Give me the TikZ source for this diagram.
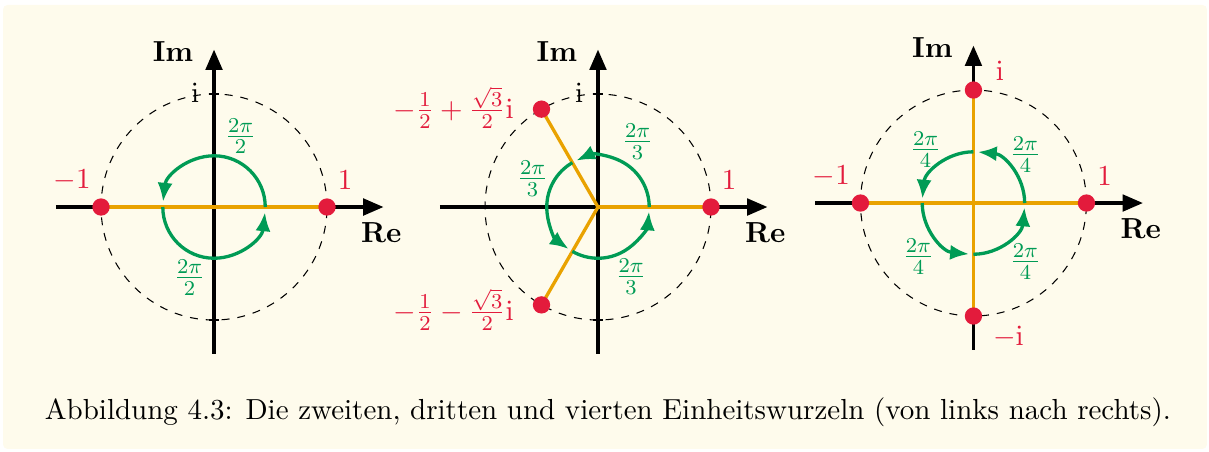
\documentclass[11pt,tikz,border=0pt]{standalone}
\usepackage{amsmath}
\usetikzlibrary{arrows.meta}
\definecolor{bgcream}{HTML}{FEFBEC}
\definecolor{rootred}{HTML}{E31B3C}
\definecolor{spokeorange}{HTML}{E9A200}
\definecolor{anglegreen}{HTML}{009B55}
\begin{document}
\begin{tikzpicture}[
        axis/.style={line width=1.25pt, -{Triangle[length=2.7mm,width=2.2mm]}},
        unitcircle/.style={dashed, thin},
        tickmark/.style={thin},
        spoke/.style={spokeorange, line width=1.25pt},
        turn/.style={anglegreen, line width=1.25pt, -{Latex[length=2.5mm,width=2mm]}},
        rootdot/.style={circle, fill=rootred, inner sep=0pt, minimum size=2.3mm},
        rootlabel/.style={text=rootred},
        anglelabel/.style={text=anglegreen},
        axislabel/.style={font=\bfseries}]
    \useasboundingbox (0,0) rectangle (16.049,-6);
    \fill[bgcream, rounded corners=1.7pt] (0.04,-0.066) rectangle (16.022,-5.96);

    % zweite Einheitswurzeln
    \begin{scope}[shift={(2.841,-2.748)}]
        \draw[unitcircle] (0,0) circle (1.5);
        \draw[axis] (-2.1,0) -- (2.25,0);
        \draw[axis] (0,-1.95) -- (0,2.09);
        \foreach \t in {1.5,-1.5}
            \draw[tickmark] (-0.07,\t) -- (0.07,\t);
        \node[axislabel] (re1) at (2.22,-0.345) {Re};
        \node[axislabel] (im1) at (-0.545,2.07) {Im};
        \node (i1) at (-0.25,1.52) {$\mathrm{i}$};
        \coordinate (o1) at (0,0);
        \coordinate (p1a) at (0:1.5);
        \coordinate (p1b) at (180:1.5);
        \draw[spoke] (o1) -- (p1a);
        \draw[spoke] (o1) -- (p1b);
        \foreach \a in {0,180}
            \draw[turn] (\a:0.68) arc[start angle=\a, end angle=\a+174, radius=0.68];
        \node[rootdot] (w1a) at (p1a) {};
        \node[rootdot] (w1b) at (p1b) {};
        \node[rootlabel] (l1a) at (1.74,0.36) {$1$};
        \node[rootlabel] (l1b) at (-1.885,0.36) {$-1$};
        \node[anglelabel] (g1a) at (0.352,0.942) {$\frac{2\pi}{2}$};
        \node[anglelabel] (g1b) at (-0.325,-0.936) {$\frac{2\pi}{2}$};
    \end{scope}

    % dritte Einheitswurzeln
    \begin{scope}[shift={(7.938,-2.748)}]
        \draw[unitcircle] (0,0) circle (1.5);
        \draw[axis] (-2.1,0) -- (2.25,0);
        \draw[axis] (0,-1.95) -- (0,2.09);
        \foreach \t in {1.5,-1.5}
            \draw[tickmark] (-0.07,\t) -- (0.07,\t);
        \node[axislabel] (re2) at (2.22,-0.345) {Re};
        \node[axislabel] (im2) at (-0.545,2.07) {Im};
        \node (i2) at (-0.25,1.52) {$\mathrm{i}$};
        \coordinate (o2) at (0,0);
        \coordinate (p2a) at (0:1.5);
        \coordinate (p2b) at (120:1.5);
        \coordinate (p2c) at (240:1.5);
        \draw[spoke] (o2) -- (p2a);
        \draw[spoke] (o2) -- (p2b);
        \draw[spoke] (o2) -- (p2c);
        \foreach \a in {0,120,240}
            \draw[turn] (\a:0.68) arc[start angle=\a, end angle=\a+115, radius=0.68];
        \node[rootdot] (w2a) at (p2a) {};
        \node[rootdot] (w2b) at (p2b) {};
        \node[rootdot] (w2c) at (p2c) {};
        \node[rootlabel] (l2a) at (1.74,0.36) {$1$};
        \node[rootlabel, anchor=east] (l2b) at (-0.985,1.32) {$-\frac{1}{2}+\frac{\sqrt{3}}{2}\mathrm{i}$};
        \node[rootlabel, anchor=east] (l2c) at (-0.985,-1.36) {$-\frac{1}{2}-\frac{\sqrt{3}}{2}\mathrm{i}$};
        \node[anglelabel] (g2a) at (0.524,0.869) {$\frac{2\pi}{3}$};
        \node[anglelabel] (g2b) at (-0.869,0.378) {$\frac{2\pi}{3}$};
        \node[anglelabel] (g2c) at (0.438,-0.922) {$\frac{2\pi}{3}$};
    \end{scope}

    % vierte Einheitswurzeln
    \begin{scope}[shift={(12.922,-2.695)}]
        \draw[unitcircle] (0,0) circle (1.5);
        \draw[axis] (-2.1,0) -- (2.25,0);
        \draw[axis] (0,-1.95) -- (0,2.09);
        \node[axislabel] (re3) at (2.22,-0.345) {Re};
        \node[axislabel] (im3) at (-0.545,2.07) {Im};
        \coordinate (o3) at (0,0);
        \coordinate (p3a) at (0:1.5);
        \coordinate (p3b) at (90:1.5);
        \coordinate (p3c) at (180:1.5);
        \coordinate (p3d) at (270:1.5);
        \draw[spoke] (p3c) -- (p3a);
        \draw[spoke] (p3d) -- (p3b);
        \foreach \a in {0,90,180,270}
            \draw[turn] (\a:0.68) arc[start angle=\a, end angle=\a+85, radius=0.68];
        \node[rootdot] (w3a) at (p3a) {};
        \node[rootdot] (w3b) at (p3b) {};
        \node[rootdot] (w3c) at (p3c) {};
        \node[rootdot] (w3d) at (p3d) {};
        \node[rootlabel] (l3a) at (1.74,0.36) {$1$};
        \node[rootlabel] (l3b) at (0.35,1.75) {$\mathrm{i}$};
        \node[rootlabel] (l3c) at (-1.885,0.36) {$-1$};
        \node[rootlabel] (l3d) at (0.465,-1.785) {$-\mathrm{i}$};
        \node[anglelabel] (g3a) at (0.69,0.644) {$\frac{2\pi}{4}$};
        \node[anglelabel] (g3b) at (-0.637,0.71) {$\frac{2\pi}{4}$};
        \node[anglelabel] (g3c) at (-0.73,-0.71) {$\frac{2\pi}{4}$};
        \node[anglelabel] (g3d) at (0.69,-0.777) {$\frac{2\pi}{4}$};
    \end{scope}

    \node[anchor=base] (caption) at (8.07,-5.562) {Abbildung 4.3: Die zweiten, dritten und vierten Einheitswurzeln (von links nach rechts).};
\end{tikzpicture}
\end{document}
